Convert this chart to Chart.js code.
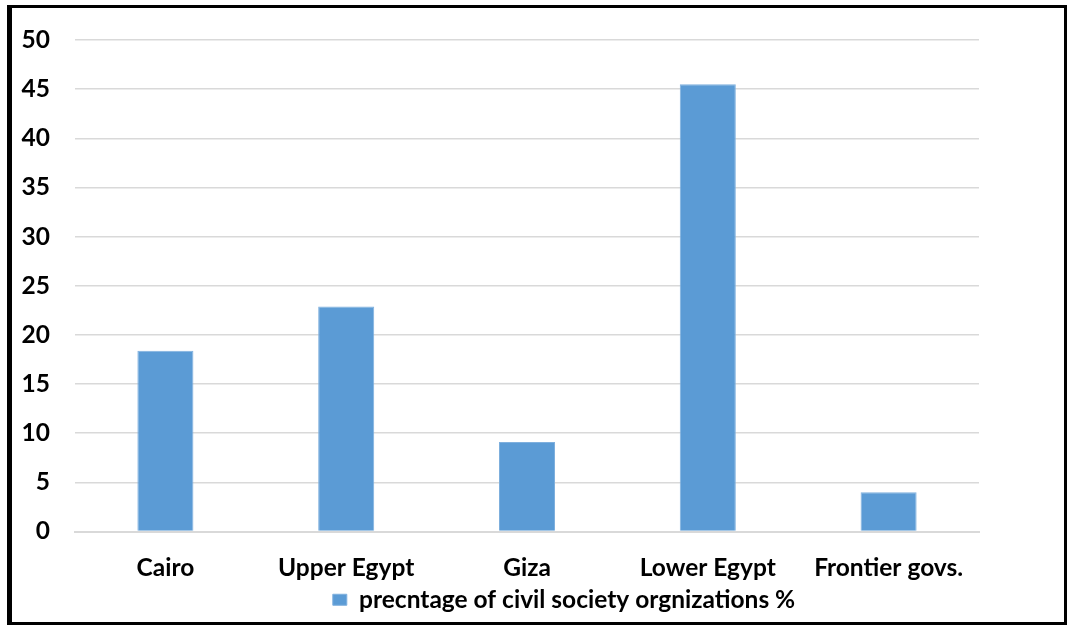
<!DOCTYPE html>
<html>
<head>
<meta charset="utf-8">
<script src="https://cdn.jsdelivr.net/npm/chart.js@4.4.1/dist/chart.umd.min.js"></script>
<style>
  html, body { margin: 0; padding: 0; background: #fff; }
  #wrap { width: 1067px; height: 625px; position: relative; }
</style>
</head>
<body>
<div id="wrap"><canvas id="c" width="1067" height="625"></canvas></div>
<script>
const categories = ["Cairo", "Upper Egypt", "Giza", "Lower Egypt", "Frontier govs."];
const seriesName = "precntage of civil society orgnizations %";
const seriesValues = [18.4, 22.9, 9.1, 45.5, 4.0];
const yTicks = [0, 5, 10, 15, 20, 25, 30, 35, 40, 45, 50];

const FONT = "Lato, 'Liberation Sans', sans-serif";
const FSIZE = 24.5;

const framePlugin = {
  id: 'frame',
  afterLayout(chart) {
    // shift the legend so it sits where the reference has it
    if (chart.legend) {
      chart.legend.left += 68;
      chart.legend.right += 68;
    }
  },
  afterDraw(chart) {
    const ctx = chart.ctx;
    ctx.save();
    ctx.fillStyle = '#000';
    ctx.fillRect(7, 5, 5, 620);      // left
    ctx.fillRect(7, 5, 1060, 3);     // top
    ctx.fillRect(1064, 5, 3, 620);   // right
    ctx.fillRect(7, 622, 1060, 3);   // bottom
    ctx.restore();
  }
};

new Chart(document.getElementById('c'), {
  type: 'bar',
  data: {
    labels: categories,
    datasets: [{
      label: seriesName,
      data: seriesValues,
      backgroundColor: '#5B9BD5',
      borderColor: '#7FB0DE',
      borderWidth: 1,
      barPercentage: 0.31,
      categoryPercentage: 1.0
    }]
  },
  options: {
    responsive: false,
    animation: false,
    devicePixelRatio: 1,
    layout: { padding: { left: 13, top: 40, right: 88, bottom: 3 } },
    plugins: {
      legend: {
        position: 'bottom',
        labels: {
          boxWidth: 14, boxHeight: 11,
          color: '#000',
          font: { family: FONT, size: FSIZE, weight: 'bold' },
          padding: 4
        }
      },
      tooltip: { enabled: false }
    },
    scales: {
      x: {
        clip: false,
        afterFit(axis) { axis.height = 52; },
        grid: { display: false, drawTicks: false },
        border: { display: true, color: '#d9d9d9', width: 2 },
        ticks: {
          color: '#000',
          font: { family: FONT, size: FSIZE, weight: 'bold' },
          padding: 22,
          maxRotation: 0
        }
      },
      y: {
        min: 0, max: 50,
        afterBuildTicks(axis) { axis.ticks = yTicks.map(v => ({ value: v })); },
        afterFit(axis) { axis.width = 62; },
        grid: { color: '#d9d9d9', lineWidth: 1.5, drawTicks: false },
        border: { display: false },
        ticks: {
          color: '#000',
          font: { family: FONT, size: FSIZE, weight: 'bold' },
          padding: 25
        }
      }
    }
  },
  plugins: [framePlugin]
});
</script>
</body>
</html>
